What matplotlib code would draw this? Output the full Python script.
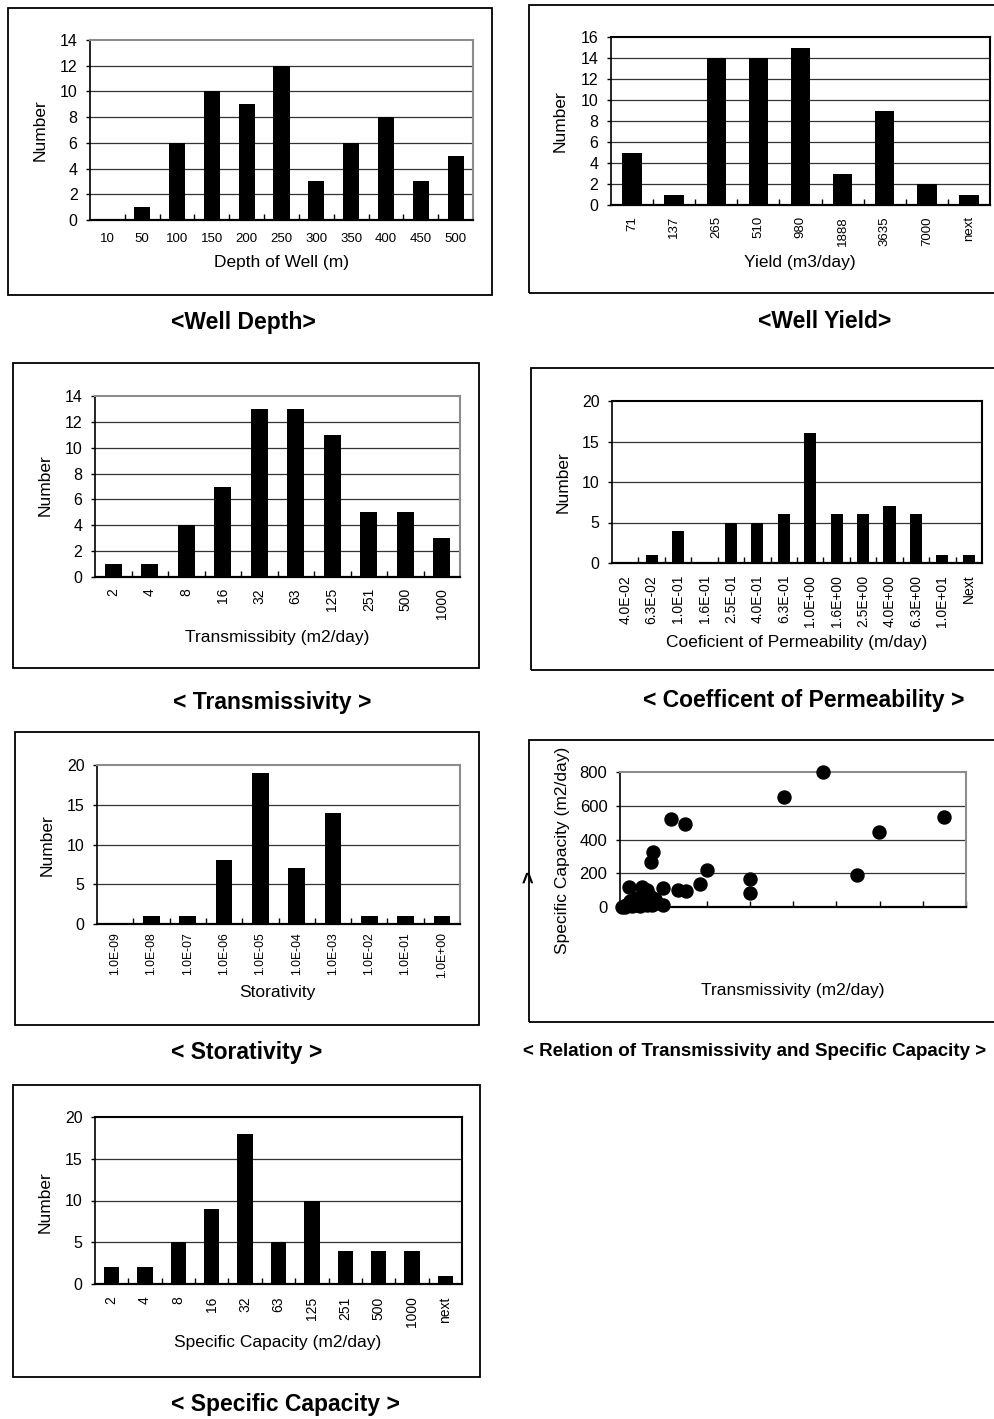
import matplotlib.pyplot as plt
from matplotlib.patches import Rectangle

plt.rcParams['font.family'] = ['Liberation Sans', 'DejaVu Sans']

# histogram counts
depth_labels = ['10', '50', '100', '150', '200', '250', '300', '350', '400', '450', '500']
depth_counts = [0, 1, 6, 10, 9, 12, 3, 6, 8, 3, 5]

yield_labels = ['71', '137', '265', '510', '980', '1888', '3635', '7000', 'next']
yield_counts = [5, 1, 14, 14, 15, 3, 9, 2, 1]

trans_labels = ['2', '4', '8', '16', '32', '63', '125', '251', '500', '1000']
trans_counts = [1, 1, 4, 7, 13, 13, 11, 5, 5, 3]

perm_labels = ['4.0E-02', '6.3E-02', '1.0E-01', '1.6E-01', '2.5E-01', '4.0E-01', '6.3E-01',
               '1.0E+00', '1.6E+00', '2.5E+00', '4.0E+00', '6.3E+00', '1.0E+01', 'Next']
perm_counts = [0, 1, 4, 0, 5, 5, 6, 16, 6, 6, 7, 6, 1, 1]

stor_labels = ['1.0E-09', '1.0E-08', '1.0E-07', '1.0E-06', '1.0E-05', '1.0E-04',
               '1.0E-03', '1.0E-02', '1.0E-01', '1.0E+00']
stor_counts = [0, 1, 1, 8, 19, 7, 14, 1, 1, 1]

spec_labels = ['2', '4', '8', '16', '32', '63', '125', '251', '500', '1000', 'next']
spec_counts = [2, 2, 5, 9, 18, 5, 10, 4, 4, 4, 1]

# scatter: transmissivity vs specific capacity
scat_trans = [586, 474, 935, 749, 686, 376, 376, 252, 231, 146, 188, 94, 89, 26, 125,
              169, 190, 63, 77, 125, 5, 14, 24, 39, 53, 67, 77, 87, 106, 63, 48, 29, 100, 58,
              70, 82, 45, 35, 92, 18]
scat_spec = [800, 652, 533, 446, 192, 166, 83, 221, 138, 521, 494, 324, 265, 119, 113,
             103, 97, 117, 103, 10, 0, 0, 20, 28, 34, 43, 14, 63, 24, 63, 14, 34, 45, 5,
             75, 50, 55, 8, 12, 10]

W, H = 994, 1419
fig = plt.figure(figsize=(W / 100, H / 100), dpi=100)


def px_axes(l, t, r, b):
    return fig.add_axes([l / W, 1 - b / H, (r - l) / W, (b - t) / H])


def frame(l, t, r, b):
    fig.add_artist(Rectangle((l / W, 1 - b / H), (r - l) / W, (b - t) / H,
                             transform=fig.transFigure, fill=False, ec='black', lw=1.3))


def ftext(x, y, s, **kw):
    fig.text(x / W, 1 - y / H, s, ha='center', va='center', **kw)


def style_spines(ax, edge):
    ax.spines['left'].set_linewidth(1.2)
    ax.spines['bottom'].set_linewidth(1.6)
    for side in ['top', 'right']:
        ax.spines[side].set_color(edge)
        ax.spines[side].set_linewidth(1.5)


def bar_panel(ax, labels, counts, ymax, ystep, edge='black', tick_size=9, rot=90, pad=8):
    x = list(range(len(labels)))
    ax.bar(x, counts, width=0.46, color='black', zorder=2)
    ax.set_xlim(-0.5, len(labels) - 0.5)
    ax.set_ylim(0, ymax)
    ax.set_yticks(range(0, ymax + 1, ystep))
    for y in range(ystep, ymax, ystep):
        ax.axhline(y, color='#333333', lw=0.9, zorder=1)
    ax.set_xticks(x)
    ax.set_xticklabels(labels, rotation=rot, fontsize=tick_size)
    ax.set_xticks([i + 0.5 for i in range(len(labels) - 1)], minor=True)
    ax.tick_params(axis='x', which='major', length=0, pad=pad)
    ax.tick_params(axis='x', which='minor', direction='in', length=4, width=1)
    ax.tick_params(axis='y', length=3, width=1, pad=6, labelsize=11.5)
    style_spines(ax, edge)


lab = dict(fontsize=12.5)
ttl = dict(fontsize=16.5, fontweight='bold')

# Well depth
frame(8, 8, 492, 295)
ax = px_axes(90, 40, 473, 220)
bar_panel(ax, depth_labels, depth_counts, 14, 2, edge='#8c8c8c', tick_size=9.5, rot=0, pad=9)
ftext(40, 130, 'Number', rotation=90, **lab)
ftext(281, 263, 'Depth of Well (m)', **lab)
ftext(243, 322, '<Well Depth>', **ttl)

# Well yield
frame(529, 5, 1010, 293)
ax = px_axes(611, 37, 990, 205)
bar_panel(ax, yield_labels, yield_counts, 16, 2, tick_size=9.5, pad=8)
ftext(560, 121, 'Number', rotation=90, **lab)
ftext(800, 262, 'Yield (m3/day)', **lab)
ftext(825, 322, '<Well Yield>', **ttl)

# Transmissivity
frame(13, 363, 479, 668)
ax = px_axes(95, 396, 460, 577)
bar_panel(ax, trans_labels, trans_counts, 14, 2, edge='#8c8c8c', tick_size=10, pad=8)
ftext(45, 485, 'Number', rotation=90, **lab)
ftext(277, 637, 'Transmissibity (m2/day)', **lab)
ftext(272, 702, '< Transmissivity >', **ttl)

# Coefficient of permeability
frame(531, 368, 1010, 670)
ax = px_axes(612, 401, 982, 563)
bar_panel(ax, perm_labels, perm_counts, 20, 5, tick_size=10, pad=8.5)
ftext(563, 482, 'Number', rotation=90, **lab)
ftext(797, 642, 'Coeficient of Permeability (m/day)', **lab)
ftext(804, 701, '< Coefficent of Permeability >', **ttl)

# Storativity
frame(15, 732, 479, 1025)
ax = px_axes(97, 765, 460, 924)
bar_panel(ax, stor_labels, stor_counts, 20, 5, edge='#8c8c8c', tick_size=8.8, pad=6)
ftext(47, 845, 'Number', rotation=90, **lab)
ftext(277, 992, 'Storativity', **lab)
ftext(247, 1053, '< Storativity >', **ttl)

# Relation of transmissivity and specific capacity
frame(529, 740, 1010, 1022)
ax = px_axes(620, 772, 966, 907)
ax.scatter(scat_trans, scat_spec, s=88, color='black', zorder=3, clip_on=False)
ax.set_xlim(0, 1000)
ax.set_ylim(0, 800)
ax.set_yticks(range(0, 801, 200))
for y in [200, 400, 600]:
    ax.axhline(y, color='#333333', lw=0.9, zorder=1)
ax.set_xticks(range(0, 1001, 125))
ax.set_xticklabels([])
ax.tick_params(axis='x', direction='in', length=4, width=1)
ax.tick_params(axis='y', length=3, width=1, pad=6, labelsize=12)
style_spines(ax, '#8c8c8c')
ftext(562, 850, 'Specific Capacity (m2/day)', rotation=90, **lab)
ftext(793, 990, 'Transmissivity (m2/day)', **lab)
ftext(524, 877, '<', rotation=-90, fontsize=15, fontweight='bold')
ftext(755, 1052, '< Relation of Transmissivity and Specific Capacity >', fontsize=13.5, fontweight='bold')

# Specific capacity
frame(13, 1085, 480, 1377)
ax = px_axes(95, 1117, 462, 1284)
bar_panel(ax, spec_labels, spec_counts, 20, 5, tick_size=10, pad=9)
ftext(45, 1202, 'Number', rotation=90, **lab)
ftext(278, 1343, 'Specific Capacity (m2/day)', **lab)
ftext(285, 1405, '< Specific Capacity >', **ttl)

fig.savefig('out.png', dpi=100)
